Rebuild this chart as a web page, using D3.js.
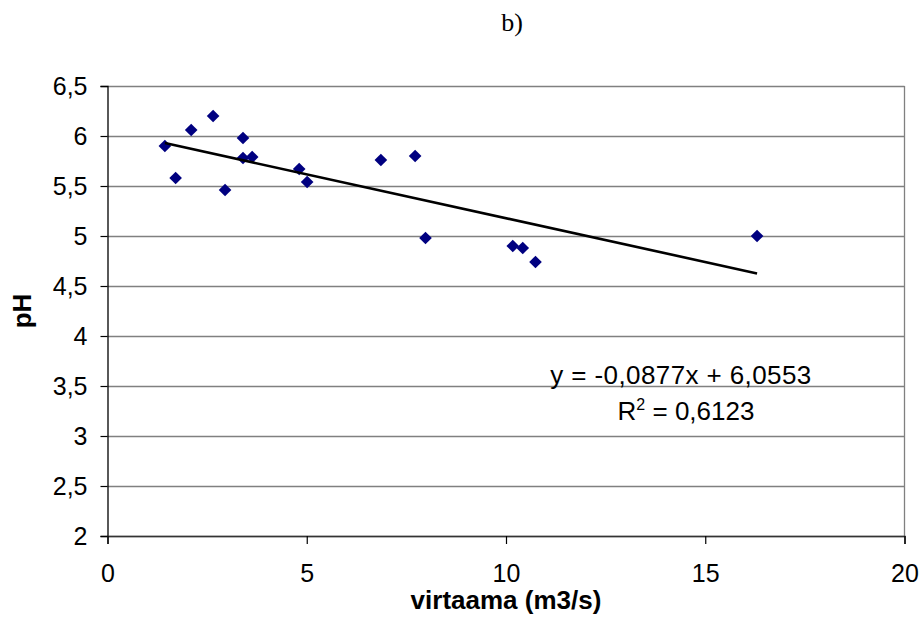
<!DOCTYPE html>
<html>
<head>
<meta charset="utf-8">
<script src="https://cdn.jsdelivr.net/npm/d3@7"></script>
<style>
  html, body { margin: 0; padding: 0; background: #fff; }
  svg { display: block; }
</style>
</head>
<body>
<svg id="chart" width="922" height="618"></svg>
<script>
// Flow (m3/s) and pH observations
const flow = [1.44, 1.71, 2.10, 2.65, 2.95, 3.40, 3.40, 3.63, 4.81, 5.01, 6.86, 7.72, 7.98, 10.17, 10.42, 10.74, 16.30];
const ph   = [5.90, 5.58, 6.06, 6.20, 5.46, 5.98, 5.78, 5.79, 5.67, 5.54, 5.76, 5.80, 4.98, 4.90, 4.88, 4.74, 5.00];

// Linear trend coefficients
const slope = -0.0877;
const intercept = 6.0553;
const r2Label = "0,6123";

const xTicks = [0, 5, 10, 15, 20];
const yTicks = [2, 2.5, 3, 3.5, 4, 4.5, 5, 5.5, 6, 6.5];

const fmt = v => String(v).replace(".", ",");
const sans = "Liberation Sans, Arial, sans-serif";

const svg = d3.select("#chart");
const plotLeft = 107.5, plotRight = 904.5, plotTop = 86, plotBottom = 536;

const x = d3.scaleLinear().domain([0, 20]).range([plotLeft, plotRight]);
const y = d3.scaleLinear().domain([2, 6.5]).range([plotBottom, plotTop]);

// Title
svg.append("text")
  .attr("x", 512).attr("y", 31)
  .attr("text-anchor", "middle")
  .attr("font-family", "Liberation Serif, Times New Roman, serif")
  .attr("font-size", 26)
  .text("b)");

// Horizontal gridlines
svg.append("g")
  .selectAll("line")
  .data(yTicks)
  .join("line")
  .attr("x1", plotLeft).attr("x2", plotRight)
  .attr("y1", d => Math.round(y(d)) + 0.5).attr("y2", d => Math.round(y(d)) + 0.5)
  .attr("stroke", "#808080").attr("stroke-width", 1.3);

// Right border of plot area
svg.append("line")
  .attr("x1", plotRight).attr("x2", plotRight)
  .attr("y1", plotTop).attr("y2", plotBottom)
  .attr("stroke", "#808080").attr("stroke-width", 1.3);

// Y axis
const yAxis = d3.axisLeft(y).tickValues(yTicks).tickFormat(fmt).tickSize(7).tickPadding(13);
const gy = svg.append("g").attr("transform", `translate(${plotLeft},0)`).call(yAxis);
gy.select(".domain").attr("stroke", "#000").attr("stroke-width", 1.3);
gy.selectAll(".tick line").attr("stroke", "#000").attr("stroke-width", 1.2);
gy.selectAll(".tick text")
  .attr("font-family", sans)
  .attr("font-size", 25).attr("fill", "#000");

// X axis
const xAxis = d3.axisBottom(x).tickValues(xTicks).tickFormat(fmt).tickSize(8).tickPadding(20);
const gx = svg.append("g").attr("transform", `translate(0,${plotBottom})`).call(xAxis);
gx.select(".domain").attr("stroke", "#333").attr("stroke-width", 1.5);
gx.selectAll(".tick line").attr("stroke", "#000").attr("stroke-width", 1.2);
gx.selectAll(".tick text")
  .attr("font-family", sans)
  .attr("font-size", 25).attr("fill", "#000");

// Axis titles
svg.append("text")
  .attr("x", 506).attr("y", 609)
  .attr("text-anchor", "middle")
  .attr("font-family", sans)
  .attr("font-weight", "bold").attr("font-size", 26)
  .text("virtaama (m3/s)");

svg.append("text")
  .attr("transform", "translate(31,311) rotate(-90)")
  .attr("text-anchor", "middle")
  .attr("font-family", sans)
  .attr("font-weight", "bold").attr("font-size", 26)
  .text("pH");

// Data markers (diamonds)
const diamond = d3.symbol().type(d3.symbolSquare).size(80);
svg.append("g")
  .selectAll("path")
  .data(flow.map((v, i) => [v, ph[i]]))
  .join("path")
  .attr("d", diamond)
  .attr("transform", d => `translate(${x(d[0])},${y(d[1])}) rotate(45)`)
  .attr("fill", "#000080");

// Trendline over the data range
const xMin = d3.min(flow), xMax = d3.max(flow);
svg.append("line")
  .attr("x1", x(xMin)).attr("y1", y(slope * xMin + intercept))
  .attr("x2", x(xMax)).attr("y2", y(slope * xMax + intercept))
  .attr("stroke", "#000").attr("stroke-width", 2.6);

// Equation labels
const eq = svg.append("g")
  .attr("font-family", sans)
  .attr("font-size", 26).attr("fill", "#000")
  .attr("text-anchor", "middle");
eq.append("text")
  .attr("x", 681).attr("y", 384)
  .attr("letter-spacing", 0.4)
  .text(`y = ${fmt(slope)}x + ${fmt(intercept)}`);
const r = eq.append("text")
  .attr("x", 686).attr("y", 420);
r.append("tspan").text("R");
r.append("tspan").attr("font-size", 16).attr("dy", -10).text("2");
r.append("tspan").attr("dy", 10).text(` = ${r2Label}`);
</script>
</body>
</html>
